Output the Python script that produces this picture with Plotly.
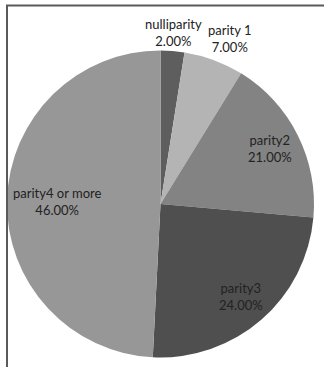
import math
import plotly.graph_objects as go

# ---- data ----
categories = ["nulliparity", "parity 1", "parity2", "parity3", "parity4 or more"]
slice_values = [2.5, 6.3, 17.6, 24.4, 49.2]          # slice sizes as drawn
printed_pct = ["2.00%", "7.00%", "21.00%", "24.00%", "46.00%"]  # printed labels

# ---- style / layout ----
colors = ["#5e5e5e", "#b4b4b4", "#838383", "#4f4f4f", "#979797"]
label_r = [1.12, 1.17, 0.80, 0.80, 0.67]   # label distance (fraction of radius)
label_da = [0.0, 2.5, 0.0, 0.0, 0.0]       # small angle nudges (degrees)
W, H = 324, 367
CX, CY, R = 160.5, 204.0, 153.5   # pie centre/radius in pixels (y from top)

fig = go.Figure()
fig.add_trace(go.Pie(
    labels=categories, values=slice_values,
    sort=False, direction="clockwise", rotation=0,
    marker=dict(colors=colors, line=dict(width=0)),
    textinfo="none", hoverinfo="label+value", showlegend=False,
    domain=dict(x=[(CX - R) / W, (CX + R) / W],
                y=[(H - CY - R) / H, (H - CY + R) / H]),
))

total = sum(slice_values)
cum = 0.0
annotations = []
for name, v, pct, rf, da in zip(categories, slice_values, printed_pct, label_r, label_da):
    mid = (cum + v / 2) / total * 2 * math.pi + math.radians(da)
    cum += v
    px = CX + rf * R * math.sin(mid)
    py = CY - rf * R * math.cos(mid)
    annotations.append(dict(
        x=px / W, y=1 - py / H, xref="paper", yref="paper",
        text=f"{name}<br>{pct}", showarrow=False,
        font=dict(family="Lato", size=13, color="#222222"),
        align="center", xanchor="center", yanchor="middle",
    ))

fig.update_layout(
    width=W, height=H, margin=dict(l=0, r=0, t=0, b=0),
    paper_bgcolor="white", plot_bgcolor="white",
    annotations=annotations,
    shapes=[
        dict(type="line", xref="paper", yref="paper",
             x0=6 / W, x1=1, y0=1 - 5.5 / H, y1=1 - 5.5 / H,
             line=dict(color="#5a5a5a", width=2)),
        dict(type="line", xref="paper", yref="paper",
             x0=7 / W, x1=7 / W, y0=0, y1=1 - 5 / H,
             line=dict(color="#5a5a5a", width=2)),
    ],
)
fig.write_html("out.html")
